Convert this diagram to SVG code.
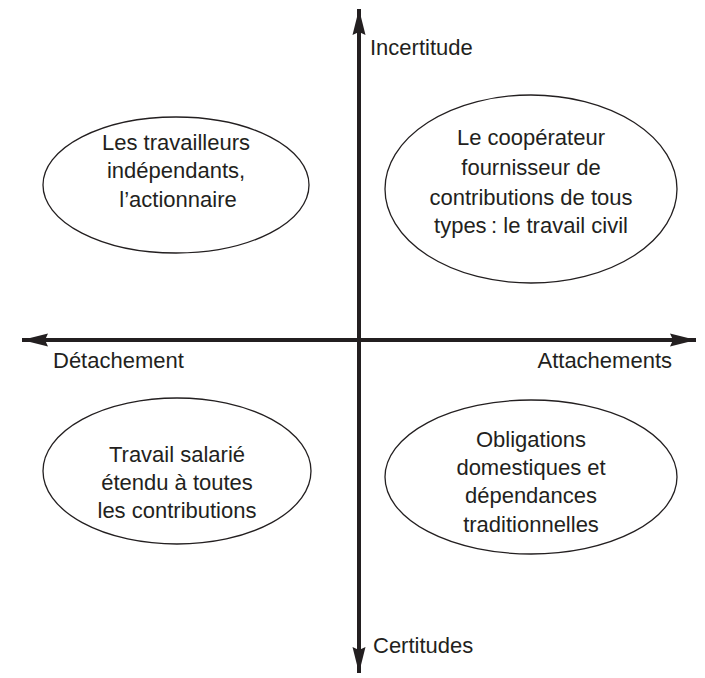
<svg xmlns="http://www.w3.org/2000/svg" width="705" height="678" viewBox="0 0 705 678">
<defs>
<marker id="ah" markerUnits="userSpaceOnUse" markerWidth="28" markerHeight="16" refX="26" refY="8" orient="auto-start-reverse">
<path d="M0,1.5 L26,8 L0,14.5 L3,8 Z" fill="#231f20"/>
</marker>
</defs>
<style>
.t{font-family:"Liberation Sans",Arial,sans-serif;font-size:22px;fill:#231f20;text-anchor:middle}
.l{font-family:"Liberation Sans",Arial,sans-serif;font-size:22px;fill:#231f20}
.e{fill:none;stroke:#231f20;stroke-width:1.3}
.ax{stroke:#231f20;stroke-width:4;fill:none}
</style>
<rect width="705" height="678" fill="#fff"/>
<g id="connectors">
<line class="ax" x1="359" y1="673" x2="359" y2="9" marker-start="url(#ah)" marker-end="url(#ah)"/>
<line class="ax" x1="22" y1="340" x2="696" y2="340" marker-start="url(#ah)" marker-end="url(#ah)"/>
</g>
<g id="axis-labels">
<text class="l" x="370" y="55">Incertitude</text>
<text class="l" x="373" y="653">Certitudes</text>
<text class="l" x="53" y="368">Détachement</text>
<text class="l" x="672" y="368" text-anchor="end">Attachements</text>
</g>
<g id="n1">
<ellipse class="e" cx="176" cy="185" rx="133" ry="68"/>
<text class="t" x="176" y="150">Les travailleurs</text>
<text class="t" x="176" y="178">indépendants,</text>
<text class="t" x="178" y="207">l’actionnaire</text>
</g>
<g id="n2">
<ellipse class="e" cx="531" cy="189" rx="146" ry="94"/>
<text class="t" x="531" y="145">Le coopérateur</text>
<text class="t" x="531" y="175">fournisseur de</text>
<text class="t" x="531" y="205">contributions de tous</text>
<text class="t" x="531" y="233">types&#8201;: le travail civil</text>
</g>
<g id="n3">
<ellipse class="e" cx="177" cy="471" rx="134" ry="73"/>
<text class="t" x="177" y="462">Travail salarié</text>
<text class="t" x="177" y="490">étendu à toutes</text>
<text class="t" x="177" y="518">les contributions</text>
</g>
<g id="n4">
<ellipse class="e" cx="531" cy="477" rx="146" ry="77"/>
<text class="t" x="531" y="447">Obligations</text>
<text class="t" x="531" y="475">domestiques et</text>
<text class="t" x="531" y="503">dépendances</text>
<text class="t" x="531" y="532">traditionnelles</text>
</g>
</svg>
